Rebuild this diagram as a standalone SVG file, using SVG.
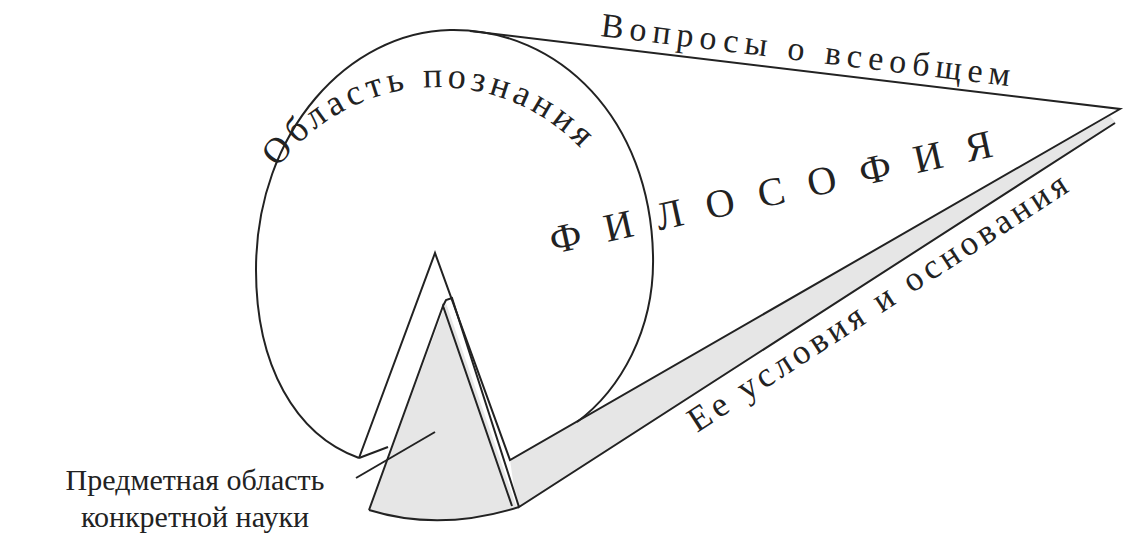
<svg xmlns="http://www.w3.org/2000/svg" width="1124" height="560" viewBox="0 0 1124 560">
<style>
.ln{fill:none;stroke:#222;stroke-width:2;stroke-linejoin:miter}
.sh{fill:#e6e6e6;stroke:none}
.t{font-family:"Liberation Serif","DejaVu Serif",serif;fill:#222}
</style>
<defs>
<path id="arc" d="M 278 168 A 198 198 0 0 1 604 178"/>
</defs>
<rect width="1124" height="560" fill="#fff"/>
<g id="shading">
<polygon class="sh" points="510,460 577,422 1110,116 1116,123 517,508"/>
<path class="sh" d="M 446 303 L 517 508 Q 440 530 369 510 Z"/>
</g>
<g id="connectors">
<path class="ln" d="M 359 458 C 295 435 256 365 256 270 C 256 130 350 32 450 30 C 560 28 650 120 653 255 C 655 330 620 390 577 422"/>
<path class="ln" d="M 359 458 L 435 253 L 510 460 L 1120 109 L 470 31"/>
<path class="ln" d="M 359 458 L 388 447"/>
<path class="ln" d="M 369 510 L 443 306 L 512 506"/>
<path class="ln" d="M 443 306 L 446 300 L 452 298 L 519 507 L 1115 123"/>
<path class="ln" d="M 369 510 Q 440 532 519 507"/>
<path class="ln" d="M 356 478 L 435 432"/>
</g>
<g id="labels">
<text class="t" font-size="34" textLength="412" lengthAdjust="spacing" transform="translate(600,36) rotate(7)">Вопросы о всеобщем</text>
<text class="t" font-size="36"><textPath href="#arc" textLength="345" lengthAdjust="spacing">Область познания</textPath></text>
<text class="t" font-size="40" letter-spacing="24" transform="translate(553,254) rotate(-12.5)">ФИЛОСОФИЯ</text>
<text class="t" font-size="35" textLength="445" lengthAdjust="spacing" transform="translate(697,433) rotate(-33)">Ее условия и основания</text>
<text class="t" font-size="30" x="195" y="490" text-anchor="middle">Предметная область</text>
<text class="t" font-size="30" x="195" y="527" text-anchor="middle">конкретной науки</text>
</g>
</svg>
